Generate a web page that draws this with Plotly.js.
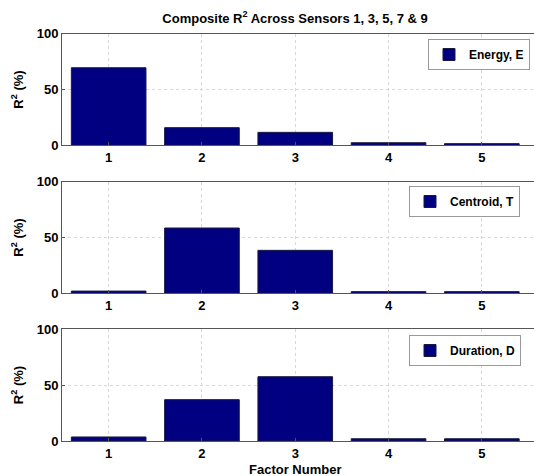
<!DOCTYPE html>
<html><head><meta charset="utf-8">
<script src="https://cdn.plot.ly/plotly-3.0.1.min.js"></script>
<style>html,body{margin:0;padding:0;overflow:hidden;background:#fff}</style>
</head><body>
<div id="chart"></div>
<script>
const factors = [1, 2, 3, 4, 5];
const energy = [69.5, 15.8, 11.6, 2.3, 1.5];
const centroid = [2.0, 58.5, 38.5, 1.5, 1.5];
const duration = [3.6, 36.9, 57.4, 2.0, 2.0];
const seriesNames = ['Energy, E', 'Centroid, T', 'Duration, D'];
const yTicks = [0, 50, 100];

const W = 540, H = 476;
const font = 'Liberation Sans, Arial, sans-serif';
const navy = '#000080';
const doms = [[1-145.3/H, 1-33.7/H], [1-293.3/H, 1-181.7/H], [1-441/H, 1-329/H]];
const legX = [428, 409, 409];
const legTop = [39, 186, 335];
const series = [energy, centroid, duration];

const data = series.map((vals, i) => ({
  type: 'bar', x: factors, y: vals, name: '<b>' + seriesNames[i] + '</b>',
  xaxis: i === 0 ? 'x' : 'x' + (i+1), yaxis: i === 0 ? 'y' : 'y' + (i+1),
  width: 0.8,
  marker: {color: navy, line: {color: '#1a1a40', width: 1}},
  legend: i === 0 ? 'legend' : 'legend' + (i+1),
  showlegend: true
}));

const layout = {
  width: W, height: H,
  margin: {l: 0, r: 0, t: 0, b: 0},
  paper_bgcolor: '#fff', plot_bgcolor: '#fff',
  font: {family: font, size: 13, color: '#000'},
  title: {text: '<b>Composite R<sup>2</sup> Across Sensors 1, 3, 5, 7 &amp; 9</b>',
          font: {family: font, size: 13, color: '#000'},
          x: 295/W, xanchor: 'center', xref: 'paper', y: 1-18/H, yref: 'container', yanchor: 'middle'},
  annotations: [{text: '<b>Factor Number</b>', xref: 'paper', yref: 'paper',
    x: 295/W, y: 1-469/H, xanchor: 'center', yanchor: 'middle', showarrow: false,
    font: {family: font, size: 13, color: '#000'}}]
};

for (let i = 0; i < 3; i++) {
  const xa = i === 0 ? 'xaxis' : 'xaxis' + (i+1);
  const ya = i === 0 ? 'yaxis' : 'yaxis' + (i+1);
  const lg = i === 0 ? 'legend' : 'legend' + (i+1);
  layout[xa] = {
    domain: [62/W, 1], range: [0.5, 0.5 + (W-62)/93.3],
    anchor: i === 0 ? 'y' : 'y' + (i+1),
    tickvals: factors, ticktext: factors.map(f => '<b>' + f + '</b>'),
    showgrid: true, gridcolor: '#d8d8d8', griddash: 'dot', gridwidth: 1,
    showline: true, linecolor: '#555', linewidth: 1, mirror: true,
    ticks: 'inside', ticklen: 3, tickcolor: '#555',
    zeroline: false, fixedrange: true,
    tickfont: {family: font, size: 13, color: '#000'}
  };
  layout[ya] = {
    domain: doms[i], range: [0, 100],
    anchor: i === 0 ? 'x' : 'x' + (i+1),
    tickvals: yTicks, ticktext: yTicks.map(t => '<b>' + t + '</b>'),
    showgrid: true, gridcolor: '#d8d8d8', griddash: 'dot', gridwidth: 1,
    showline: true, linecolor: '#555', linewidth: 1, mirror: true,
    ticks: 'inside', ticklen: 3, tickcolor: '#555',
    zeroline: false, fixedrange: true,
    tickfont: {family: font, size: 13, color: '#000'},
    title: {text: '<b>R<sup>2</sup> (%)</b>', font: {family: font, size: 13, color: '#000'}, standoff: 10}
  };
  layout[lg] = {
    x: legX[i]/W, xanchor: 'left', xref: 'paper',
    y: 1 - legTop[i]/H, yanchor: 'top', yref: 'paper',
    bgcolor: '#fff', bordercolor: '#999', borderwidth: 1,
    font: {family: font, size: 12, color: '#000'},
    itemwidth: 30, entrywidth: 125
  };
}

Plotly.newPlot('chart', data, layout, {displayModeBar: false, staticPlot: true});
</script>
</body></html>
